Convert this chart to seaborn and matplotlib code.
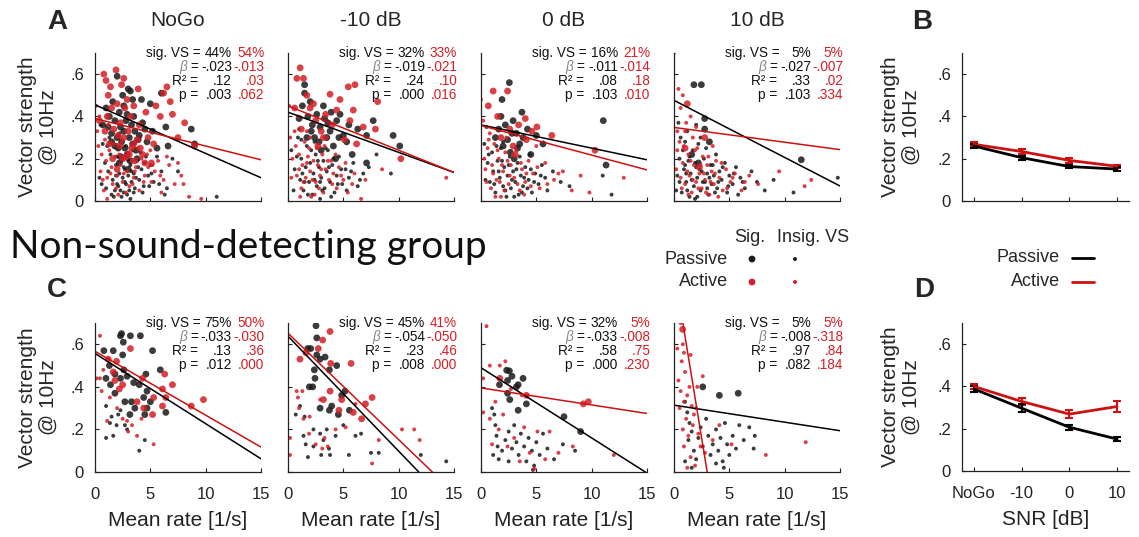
import numpy as np
import pandas as pd
import matplotlib
matplotlib.use("Agg")
import matplotlib.pyplot as plt
import seaborn as sns

sns.set_style("ticks")
plt.rcParams['font.family'] = ['Liberation Sans', 'DejaVu Sans']

BLACK = '#1a1a1a'
RED = '#d42027'
RED_LINE = '#cc1111'

conditions = ['NoGo', '-10 dB', '0 dB', '10 dB']
snr_labels = ['NoGo', '-10', '0', '10']

# ---- top row (A): (rate, VS) points, passive / active, sig / insig ----
tn_pas_sig = [(0.7,0.36),(1.0,0.44),(1.3,0.40),(1.5,0.32),(1.6,0.47),(1.8,0.38),(2.0,0.59),(2.0,0.30),(2.2,0.42),(2.3,0.35),
              (2.4,0.28),(2.5,0.50),(2.6,0.33),(2.7,0.25),(2.8,0.38),(2.9,0.22),(3.0,0.53),(3.1,0.30),(3.2,0.52),(3.3,0.36),
              (3.4,0.27),(3.5,0.40),(3.6,0.33),(3.8,0.20),(3.9,0.29),(4.2,0.48),(4.3,0.37),(4.5,0.34),(4.7,0.28),(5.0,0.46),
              (5.2,0.33),(5.6,0.25),(6.0,0.51),(6.4,0.35),(6.6,0.26),(8.7,0.34),(9.0,0.27),(2.2,0.18),(3.0,0.15),(1.8,0.26),
              (1.2,0.35),(2.1,0.25),(2.6,0.45),(3.4,0.48),(4.0,0.31),(1.5,0.28),(2.9,0.41),(3.7,0.24),(2.3,0.21),(3.2,0.19)]
tn_act_sig = [(0.4,0.38),(0.8,0.60),(1.0,0.57),(1.2,0.50),(1.4,0.54),(1.5,0.44),(1.7,0.34),(1.9,0.62),(2.0,0.46),(2.1,0.31),
              (2.3,0.37),(2.4,0.55),(2.6,0.30),(2.7,0.44),(2.8,0.21),(3.0,0.33),(3.2,0.40),(3.3,0.25),(3.5,0.45),(3.6,0.19),
              (3.8,0.29),(4.0,0.36),(4.3,0.22),(4.6,0.42),(4.8,0.30),(5.1,0.18),(5.5,0.45),(5.9,0.40),(6.2,0.51),(6.5,0.54),
              (6.8,0.47),(7.0,0.41),(7.5,0.30),(8.1,0.37),(9.0,0.26),(5.3,0.27),(2.0,0.15),(1.3,0.27),(0.9,0.33),(3.9,0.53),
              (4.5,0.18),(2.6,0.58),(1.1,0.40),(2.2,0.26),(2.9,0.48),(3.5,0.27),(1.6,0.20),(4.1,0.25),(2.5,0.20),(3.1,0.22)]
tn_pas_ins = [(0.4,0.11),(0.7,0.27),(0.9,0.18),(1.0,0.06),(1.2,0.14),(1.4,0.22),(1.6,0.10),(1.7,0.02),(1.9,0.17),(2.0,0.08),
              (2.1,0.25),(2.2,0.13),(2.3,0.05),(2.4,0.19),(2.5,0.11),(2.6,0.04),(2.7,0.15),(2.8,0.08),(2.9,0.21),(3.0,0.12),
              (3.1,0.05),(3.2,0.17),(3.3,0.09),(3.4,0.24),(3.5,0.13),(3.6,0.06),(3.8,0.19),(4.0,0.10),(4.2,0.15),(4.4,0.07),
              (4.6,0.21),(4.8,0.12),(5.0,0.17),(5.3,0.09),(5.6,0.21),(6.0,0.14),(6.5,0.06),(7.0,0.20),(7.5,0.14),(11.0,0.02),
              (1.3,0.30),(0.5,0.36),(2.2,0.32),(3.7,0.28),(1.8,0.05),(2.9,0.03),(3.2,0.01),(4.9,0.07),(6.3,0.03),
              (1.5,0.03),(1.9,0.12),(2.1,0.07),(2.4,0.02),(2.6,0.16),(2.8,0.26),(3.0,0.19),(3.3,0.14),(3.5,0.04),(3.7,0.11),
              (3.9,0.16),(4.1,0.23),(4.3,0.04),(4.5,0.18),(5.1,0.13),(5.8,0.08),(1.1,0.26),(0.6,0.08),(2.0,0.21),(2.7,0.09)]
tn_act_ins = [(0.1,0.45),(0.3,0.26),(0.5,0.14),(0.6,0.22),(0.8,0.05),(1.0,0.19),(1.1,0.11),(1.3,0.24),(1.5,0.16),(1.6,0.08),
              (1.8,0.21),(2.0,0.12),(2.1,0.03),(2.3,0.17),(2.5,0.09),(2.7,0.20),(2.9,0.14),(3.1,0.07),(3.3,0.19),(3.5,0.11),
              (3.7,0.16),(4.0,0.05),(4.2,0.20),(4.5,0.12),(4.8,0.16),(5.1,0.09),(5.4,0.14),(5.7,0.19),(6.2,0.10),(6.7,0.17),
              (7.2,0.08),(7.8,0.12),(8.5,0.02),(9.6,0.01),(3.9,0.25),(1.2,0.36),(0.4,0.40),(2.4,0.28),(5.0,0.24),(6.0,0.04),
              (0.2,0.33),(0.7,0.10),(1.4,0.13),(1.7,0.27),(1.9,0.06),(2.2,0.22),(2.6,0.13),(2.8,0.04),(3.0,0.23),(3.4,0.08),
              (3.6,0.14),(4.4,0.09),(4.7,0.22),(5.2,0.17),(5.9,0.12),(6.5,0.21),(7.5,0.18),(8.0,0.08),(0.9,0.29),(1.1,0.01)]

tm_pas_sig = [(1.5,0.55),(1.5,0.51),(1.3,0.45),(1.8,0.40),(2.2,0.36),(2.6,0.41),(2.9,0.35),(3.2,0.45),(3.5,0.30),(3.9,0.42),
              (4.1,0.26),(4.4,0.38),(4.7,0.41),(5.0,0.31),(5.3,0.28),(5.8,0.22),(6.3,0.34),(7.1,0.31),(7.1,0.18),(7.7,0.38),
              (9.5,0.31),(10.1,0.26),(2.4,0.30),(3.0,0.24),(2.0,0.47),(4.3,0.20),(3.6,0.37),(1.0,0.39),
              (2.1,0.33),(2.8,0.28),(3.3,0.39),(3.8,0.33),(4.6,0.30),(5.5,0.36),(1.7,0.30)]
tm_act_sig = [(1.1,0.63),(0.8,0.58),(1.4,0.58),(6.05,0.55),(5.45,0.54),(3.8,0.505),(4.7,0.48),(8.1,0.47),(5.9,0.43),(7.9,0.34),
              (10.2,0.20),(2.0,0.44),(6.2,0.27),(1.7,0.50),(2.5,0.38),(3.0,0.33),(4.0,0.36),(5.1,0.29),(6.8,0.35),(0.6,0.44),
              (2.7,0.26),(3.4,0.41),(2.3,0.46),(3.2,0.30),(4.4,0.43),(1.2,0.34),(5.6,0.38)]
tm_pas_ins = [(0.3,0.24),(0.6,0.15),(0.9,0.30),(1.1,0.10),(1.2,0.20),(1.4,0.05),(1.6,0.16),(1.7,0.26),(1.9,0.09),(2.0,0.18),
              (2.2,0.03),(2.3,0.13),(2.5,0.22),(2.6,0.07),(2.8,0.16),(2.9,0.01),(3.0,0.11),(3.2,0.19),(3.3,0.06),(3.5,0.14),
              (3.6,0.24),(3.8,0.09),(4.0,0.17),(4.2,0.04),(4.4,0.12),(4.6,0.21),(4.9,0.08),(5.2,0.15),(5.5,0.11),(5.9,0.18),
              (6.3,0.07),(6.8,0.13),(8.0,0.22),(9.3,0.13),(1.0,0.34),(2.4,0.28),(0.5,0.05),
              (0.8,0.21),(1.3,0.13),(1.5,0.09),(1.8,0.03),(2.1,0.24),(2.4,0.10),(2.7,0.19),(3.1,0.05),(3.4,0.25),(3.7,0.16),
              (3.9,0.02),(4.1,0.20),(4.5,0.08),(4.8,0.15),(5.3,0.05),(5.7,0.14),(6.5,0.10),(7.3,0.16),(2.9,0.09),(1.2,0.29)]
tm_act_ins = [(0.1,0.45),(0.2,0.30),(0.4,0.20),(0.7,0.26),(0.8,0.12),(1.0,0.22),(1.2,0.06),(1.3,0.17),(1.5,0.28),(1.6,0.11),
              (1.8,0.21),(2.0,0.14),(2.1,0.02),(2.3,0.19),(2.5,0.09),(2.7,0.17),(2.9,0.12),(3.1,0.22),(3.2,0.04),(3.4,0.15),
              (3.7,0.10),(3.9,0.19),(4.1,0.13),(4.4,0.06),(4.6,0.16),(5.0,0.10),(5.4,0.04),(6.0,0.13),(6.6,0.01),(8.5,0.15),
              (14.3,0.11),(0.9,0.40),(1.7,0.33),(2.6,0.25),(3.5,0.30),
              (0.3,0.11),(0.6,0.33),(1.0,0.15),(1.4,0.09),(1.7,0.18),(1.9,0.25),(2.2,0.10),(2.4,0.03),(2.8,0.06),(3.0,0.15),
              (3.3,0.26),(3.6,0.19),(4.0,0.08),(4.3,0.22),(4.8,0.12),(5.2,0.18),(5.8,0.08),(7.0,0.10),(1.1,0.02),(2.0,0.30)]

tz_pas_sig = [(2.56,0.56),(1.9,0.48),(3.7,0.42),(11.05,0.38),(11.3,0.17),(1.6,0.34),(3.2,0.32),(5.0,0.31),(3.5,0.27),(5.6,0.27),
              (2.65,0.23),(2.2,0.36),(2.9,0.38),(1.3,0.30),(4.2,0.34),(2.4,0.29),(3.0,0.20),(4.5,0.22),
              (1.8,0.40),(2.8,0.32),(3.3,0.25),(2.0,0.26),(3.8,0.30)]
tz_act_sig = [(1.1,0.52),(2.4,0.52),(4.0,0.39),(5.05,0.35),(6.4,0.31),(10.3,0.24),(0.66,0.45),(4.1,0.29),(2.9,0.26),(3.4,0.36),
              (1.8,0.30),(4.6,0.33),(1.5,0.40),(2.6,0.34),(3.1,0.22)]
tz_pas_ins = [(0.3,0.27),(0.6,0.18),(0.8,0.09),(1.0,0.23),(1.1,0.14),(1.3,0.04),(1.5,0.19),(1.7,0.11),(1.8,0.25),(2.0,0.07),
              (2.1,0.16),(2.3,0.02),(2.4,0.12),(2.6,0.21),(2.7,0.06),(2.9,0.14),(3.1,0.09),(3.3,0.18),(3.4,0.03),(3.6,0.12),
              (3.8,0.07),(4.0,0.16),(4.3,0.10),(4.6,0.04),(4.9,0.13),(5.2,0.08),(5.5,0.17),(5.8,0.11),(6.5,0.14),(7.2,0.09),
              (8.0,0.07),(11.0,0.12),(11.8,0.03),(0.5,0.35),(4.4,0.22),
              (0.4,0.10),(0.7,0.22),(1.2,0.08),(1.4,0.26),(1.6,0.14),(1.9,0.19),(2.2,0.05),(2.5,0.17),(2.8,0.10),(3.0,0.02),
              (3.2,0.15),(3.5,0.21),(3.7,0.04),(3.9,0.11),(4.2,0.06),(4.5,0.15),(4.8,0.09),(5.4,0.12),(6.0,0.05),(2.0,0.28)]
tz_act_ins = [(0.0,0.48),(0.2,0.38),(0.4,0.15),(0.6,0.25),(0.9,0.06),(1.0,0.17),(1.2,0.27),(1.4,0.10),(1.6,0.20),(1.8,0.02),
              (2.0,0.14),(2.2,0.23),(2.5,0.08),(2.7,0.17),(3.0,0.11),(3.2,0.24),(3.5,0.05),(3.7,0.15),(4.0,0.09),(4.3,0.19),
              (4.7,0.13),(5.3,0.06),(5.8,0.18),(6.6,0.10),(7.4,0.14),(8.2,0.05),(9.0,0.12),(9.8,0.04),(12.9,0.11),(0.8,0.32),
              (2.3,0.30),(5.0,0.26),
              (0.3,0.20),(0.5,0.09),(0.7,0.29),(1.1,0.13),(1.3,0.02),(1.5,0.24),(1.7,0.09),(1.9,0.17),(2.1,0.05),(2.4,0.19),
              (2.6,0.12),(2.9,0.22),(3.3,0.08),(3.6,0.18),(3.9,0.03),(4.1,0.13),(4.5,0.07),(5.1,0.16),(6.0,0.08),(7.0,0.13)]

tt_pas_sig = [(1.8,0.55),(2.47,0.55),(2.77,0.39),(2.77,0.34),(3.2,0.28),(11.5,0.195),(1.6,0.22),(2.2,0.18)]
tt_act_sig = [(1.2,0.46),(2.77,0.30),(1.0,0.25),(2.3,0.16)]
tt_pas_ins = [(0.3,0.12),(0.5,0.20),(0.7,0.04),(0.9,0.15),(1.0,0.28),(1.1,0.09),(1.3,0.19),(1.4,0.02),(1.5,0.13),(1.7,0.24),
              (1.8,0.07),(2.0,0.16),(2.1,0.11),(2.2,0.27),(2.4,0.05),(2.5,0.14),(2.7,0.20),(2.8,0.09),(3.0,0.13),(3.1,0.03),
              (3.3,0.17),(3.4,0.08),(3.6,0.12),(3.8,0.22),(3.9,0.06),(4.1,0.14),(4.3,0.10),(4.6,0.18),(4.8,0.04),(5.0,0.12),
              (5.3,0.08),(5.6,0.16),(6.0,0.11),(6.4,0.06),(7.0,0.14),(7.5,0.09),(8.2,0.05),(9.0,0.10),(10.8,0.04),(14.8,0.11),
              (0.4,0.37),(1.2,0.33),(2.0,0.36),(0.2,0.05),(1.9,0.01),
              (0.5,0.09),(0.8,0.24),(1.0,0.17),(1.2,0.05),(1.4,0.21),(1.6,0.10),(1.9,0.18),(2.1,0.02),(2.3,0.15),(2.6,0.09),
              (2.9,0.25),(3.2,0.11),(3.5,0.17),(3.7,0.04),(4.0,0.09),(4.4,0.16),(4.9,0.07),(5.4,0.13),(6.2,0.09),(2.4,0.30),
              (1.1,0.13),(3.0,0.06),(5.8,0.03),(0.6,0.30)]
tt_act_ins = [(0.0,0.70),(0.4,0.53),(0.6,0.44),(0.8,0.50),(0.3,0.33),(0.5,0.28),(0.8,0.18),(1.0,0.08),(1.1,0.37),(1.3,0.22),
              (1.4,0.12),(1.6,0.04),(1.7,0.30),(1.8,0.17),(2.0,0.09),(2.1,0.25),(2.3,0.13),(2.5,0.06),(2.6,0.21),(2.8,0.10),
              (3.0,0.17),(3.2,0.03),(3.4,0.14),(3.6,0.08),(3.8,0.19),(4.1,0.11),(4.4,0.05),(4.7,0.15),(5.1,0.09),(5.5,0.13),
              (6.1,0.05),(6.8,0.12),(7.6,0.08),(9.5,0.14),(11.8,0.07),(12.4,0.10),(0.2,0.15),(1.5,0.40),
              (0.3,0.24),(0.6,0.11),(0.9,0.26),(1.2,0.14),(1.3,0.03),(1.5,0.19),(1.7,0.10),(1.9,0.24),(2.2,0.06),(2.4,0.17),
              (2.7,0.13),(2.9,0.04),(3.1,0.21),(3.3,0.09),(3.7,0.13),(4.0,0.02),(4.3,0.18),(4.8,0.06),(5.3,0.11),(6.4,0.09),
              (1.0,0.33),(2.0,0.35),(0.7,0.06),(3.5,0.26)]

# ---- bottom row (C) ----
bn_pas_sig = [(2.4,0.65),(2.3,0.64),(3.2,0.64),(4.1,0.64),(0.8,0.57),(1.65,0.57),(2.5,0.55),(2.56,0.61),(5.2,0.57),(5.9,0.48),
              (4.6,0.46),(1.3,0.50),(1.8,0.46),(0.99,0.44),(2.3,0.44),(2.9,0.45),(3.5,0.42),(4.0,0.41),(4.7,0.38),(4.4,0.35),
              (2.7,0.33),(3.3,0.33),(3.6,0.30),(4.7,0.30),(6.4,0.28),(4.5,0.27),(1.8,0.37),(3.15,0.27),(5.0,0.33),(2.6,0.48),
              (1.4,0.41)]
bn_act_sig = [(3.2,0.58),(1.95,0.52),(2.5,0.41),(4.3,0.44),(5.3,0.35),(6.3,0.46),(7.0,0.41),(6.1,0.39),(6.4,0.35),(8.7,0.31),
              (9.8,0.34),(6.1,0.31),(5.2,0.27),(3.8,0.33),(1.2,0.53),(1.65,0.47),(1.8,0.43),(2.2,0.39),(4.4,0.30)]
bn_pas_ins = [(1.0,0.31),(1.0,0.16),(1.65,0.17),(1.95,0.22),(1.35,0.23),(4.0,0.10),(2.9,0.20),(4.5,0.15),(2.3,0.29),(1.5,0.26),
              (2.7,0.22),(2.1,0.27)]
bn_act_ins = [(0.45,0.64),(0.15,0.44),(0.45,0.44),(0.6,0.38),(1.1,0.24),(2.9,0.24),(3.35,0.22),(3.8,0.17),(5.3,0.13),(4.2,0.25),
              (2.5,0.25),(1.35,0.35),(0.75,0.48),(2.0,0.30),(3.0,0.19)]

bm_pas_sig = [(2.53,0.687),(2.6,0.63),(1.78,0.58),(2.05,0.58),(2.6,0.55),(2.9,0.53),(3.35,0.54),(2.38,0.48),(3.74,0.48),(4.4,0.50),
              (2.44,0.44),(1.93,0.40),(2.23,0.40),(5.15,0.38),(4.85,0.36),(2.9,0.30),(3.95,0.31),(3.74,0.29),(4.55,0.27),(5.55,0.29)]
bm_act_sig = [(3.8,0.66),(3.13,0.62),(2.74,0.58),(1.63,0.56),(1.08,0.53),(3.86,0.51),(5.7,0.51),(3.8,0.38),(4.85,0.34),(7.6,0.35),
              (7.0,0.32),(5.9,0.28),(4.6,0.29),(6.65,0.25),(3.2,0.34)]
bm_pas_ins = [(1.08,0.31),(1.5,0.26),(2.3,0.20),(1.4,0.17),(2.9,0.18),(1.6,0.13),(2.3,0.12),(3.2,0.15),(3.7,0.11),(3.0,0.08),
              (3.8,0.08),(1.8,0.07),(4.3,0.17),(5.0,0.22),(6.1,0.17),(5.5,0.08),(6.6,0.18),(7.5,0.09),(8.2,0.09),(12.0,0.08),
              (14.3,0.05),(0.7,0.27),(3.5,0.20)]
bm_act_ins = [(0.18,0.16),(0.18,0.08),(0.78,0.38),(0.9,0.35),(1.4,0.25),(1.96,0.26),(2.9,0.34),(1.9,0.18),(2.5,0.13),(3.1,0.11),
              (3.6,0.12),(3.3,0.16),(4.3,0.20),(5.2,0.21),(6.1,0.32),(8.2,0.15),(10.3,0.20),(11.4,0.20),(11.9,0.15),(7.6,0.04),
              (1.3,0.38),(1.0,0.30)]

bz_pas_sig = [(2.32,0.478),(2.56,0.475),(1.67,0.41),(2.4,0.43),(3.2,0.40),(3.8,0.44),(2.4,0.37),(3.36,0.41),(4.1,0.32),(2.6,0.34),
              (3.36,0.29),(7.5,0.26),(9.0,0.19),(2.8,0.45)]
bz_act_sig = [(9.25,0.32),(9.7,0.33),(1.7,0.44),(4.1,0.36)]
bz_pas_ins = [(1.0,0.30),(1.2,0.27),(1.3,0.22),(1.4,0.17),(1.5,0.12),(1.1,0.08),(1.6,0.06),(1.9,0.10),(2.2,0.15),(2.5,0.19),
              (2.5,0.05),(2.8,0.11),(3.0,0.22),(3.2,0.14),(3.4,0.08),(3.6,0.18),(3.9,0.12),(4.1,0.05),(4.3,0.16),(4.6,0.10),
              (4.8,0.03),(5.0,0.14),(5.3,0.08),(5.6,0.18),(6.0,0.11),(6.6,0.06),(7.4,0.13),(8.5,0.10),(4.7,0.01)]
bz_act_ins = [(0.5,0.685),(0.8,0.50),(1.7,0.50),(2.2,0.52),(0.2,0.44),(0.2,0.28),(0.8,0.25),(3.7,0.36),(6.2,0.19),(8.3,0.12),
              (12.0,0.08),(4.8,0.015),(1.3,0.33),(1.6,0.20),(2.0,0.27),(2.4,0.12),(3.0,0.16),(3.5,0.05),(3.9,0.21),(4.4,0.09),
              (5.1,0.19),(5.8,0.06),(7.0,0.09),(1.0,0.13),(2.7,0.39)]

bt_pas_sig = [(4.1,0.36),(5.8,0.37),(2.6,0.40)]
bt_act_sig = [(0.78,0.67)]
bt_pas_ins = [(1.0,0.33),(1.2,0.28),(1.4,0.23),(1.3,0.15),(1.6,0.19),(1.8,0.10),(2.0,0.06),(2.2,0.16),(2.4,0.21),(2.6,0.12),
              (2.9,0.25),(3.1,0.17),(3.3,0.08),(3.5,0.13),(3.8,0.20),(4.0,0.10),(4.2,0.16),(4.4,0.05),(4.6,0.23),(4.8,0.13),
              (5.0,0.08),(5.3,0.17),(5.6,0.11),(5.9,0.22),(6.3,0.15),(6.8,0.21),(7.2,0.11),(7.3,0.17),(4.5,0.02),(3.8,0.04),
              (1.0,0.05),(1.6,0.02)]
bt_act_ins = [(0.3,0.58),(0.6,0.70),(0.8,0.60),(0.9,0.56),(0.7,0.52),(1.0,0.47),(0.4,0.43),(0.6,0.38),(0.9,0.33),(1.2,0.36),
              (1.4,0.40),(1.6,0.31),(1.8,0.27),(1.1,0.25),(0.8,0.20),(1.3,0.17),(0.9,0.12),(1.7,0.22),(2.0,0.30),(2.2,0.18),
              (1.5,0.07),(1.9,0.03),(2.4,0.12),(2.6,0.45),(2.1,0.40),(4.1,0.22),(3.5,0.15),(5.2,0.13),(11.9,0.14),(8.3,0.08),
              (1.2,0.02),(2.8,0.09),(0.5,0.30),(1.5,0.55)]

# ---- regression stats (passive, active) ----
top_sig = [('44%', '54%'), ('32%', '33%'), ('16%', '21%'), ('5%', '5%')]
top_beta = [('-.023', '-.013'), ('-.019', '-.021'), ('-.011', '-.014'), ('-.027', '-.007')]
top_r2 = [('.12', '.03'), ('.24', '.10'), ('.08', '.18'), ('.33', '.02')]
top_p = [('.003', '.062'), ('.000', '.016'), ('.103', '.010'), ('.103', '.334')]
top_icpt = [(0.455, 0.39), (0.42, 0.45), (0.36, 0.357), (0.476, 0.348)]

bot_sig = [('75%', '50%'), ('45%', '41%'), ('32%', '5%'), ('5%', '5%')]
bot_beta = [('-.033', '-.030'), ('-.054', '-.050'), ('-.033', '-.008'), ('-.008', '-.318')]
bot_r2 = [('.13', '.36'), ('.23', '.46'), ('.58', '.75'), ('.97', '.84')]
bot_p = [('.012', '.000'), ('.008', '.000'), ('.000', '.230'), ('.082', '.184')]
bot_icpt = [(0.557, 0.567), (0.638, 0.652), (0.49, 0.395), (0.314, 0.954)]

# ---- mean VS per SNR (B, D) ----
b_pas = [0.260, 0.205, 0.163, 0.151]
b_pas_err = [0.010, 0.010, 0.008, 0.008]
b_act = [0.268, 0.234, 0.192, 0.164]
b_act_err = [0.010, 0.010, 0.010, 0.008]
d_pas = [0.388, 0.297, 0.207, 0.151]
d_pas_err = [0.015, 0.020, 0.012, 0.008]
d_act = [0.400, 0.329, 0.269, 0.305]
d_act_err = [0.012, 0.015, 0.020, 0.025]

top_sets = [(tn_pas_sig, tn_pas_ins, tn_act_sig, tn_act_ins), (tm_pas_sig, tm_pas_ins, tm_act_sig, tm_act_ins),
            (tz_pas_sig, tz_pas_ins, tz_act_sig, tz_act_ins), (tt_pas_sig, tt_pas_ins, tt_act_sig, tt_act_ins)]
bot_sets = [(bn_pas_sig, bn_pas_ins, bn_act_sig, bn_act_ins), (bm_pas_sig, bm_pas_ins, bm_act_sig, bm_act_ins),
            (bz_pas_sig, bz_pas_ins, bz_act_sig, bz_act_ins), (bt_pas_sig, bt_pas_ins, bt_act_sig, bt_act_ins)]

TICK_FS = 12
LAB_FS = 15
ANN_FS = 9.8
SIG_S = 24
INS_S = 8

fig = plt.figure(figsize=(11.39, 5.37), dpi=100)
W, H = 1139.0, 537.0


def px_axes(left, top, right, bottom):
    return fig.add_axes([left / W, 1 - bottom / H, (right - left) / W, (bottom - top) / H])


def style_axes(ax):
    sns.despine(ax=ax)
    for s in ['left', 'bottom']:
        ax.spines[s].set_linewidth(0.9)
        ax.spines[s].set_color('#222222')
    ax.tick_params(direction='in', length=3, width=0.8, labelsize=TICK_FS, colors='#222222')
    ax.tick_params(axis='x', pad=11)
    ax.tick_params(axis='y', pad=8)
    ax.set_ylim(0, 0.7)
    ax.set_yticks([0, 0.2, 0.4, 0.6])


def panel_frame(sets):
    rows = []
    for pts, cond, sig in zip(sets, ['Passive', 'Passive', 'Active', 'Active'], ['Sig', 'Insig', 'Sig', 'Insig']):
        for x, y in pts:
            rows.append((x, y, cond, sig))
    return pd.DataFrame(rows, columns=['rate', 'vs', 'cond', 'sig'])


def scatter_panel(ax, sets, icpt, sig, beta, r2, pv, xlabels):
    df = panel_frame(sets)
    sns.scatterplot(data=df, x='rate', y='vs', hue='cond', size='sig',
                    palette={'Passive': BLACK, 'Active': RED},
                    sizes={'Sig': SIG_S, 'Insig': INS_S}, linewidth=0, alpha=0.85,
                    legend=False, ax=ax)
    xs = np.array([0.0, 15.0])
    ax.plot(xs, icpt[0] + float(beta[0]) * xs, color='black', lw=1.1)
    ax.plot(xs, icpt[1] + float(beta[1]) * xs, color=RED_LINE, lw=1.1)
    ax.set_xlim(0, 15)
    style_axes(ax)
    ax.set_xticks([0, 5, 10, 15])
    if not xlabels:
        ax.set_xticklabels([])
        ax.set_xlabel('')
    else:
        ax.set_xlabel('Mean rate [1/s]', fontsize=LAB_FS, color='#222222', labelpad=6)
    ax.set_ylabel('')
    # stats block
    ys = [1.0, 0.905, 0.81, 0.715]
    kw = dict(transform=ax.transAxes, fontsize=ANN_FS, va='center', ha='right', clip_on=False)
    ax.text(0.635, ys[0], 'sig. VS =', color='#111111', **kw)
    ax.text(0.555, ys[1], 'β', color='#888888', style='italic', **kw)
    ax.text(0.62, ys[1], '=', color='#111111', **kw)
    ax.text(0.62, ys[2], 'R² =', color='#111111', **kw)
    ax.text(0.62, ys[3], 'p =', color='#111111', **kw)
    for y, vals in zip(ys, [sig, beta, r2, pv]):
        ax.text(0.825, y, vals[0], color='#111111', **kw)
        ax.text(1.02, y, vals[1], color=RED, **kw)


YLAB = 'Vector strength\n@ 10Hz'
lefts = [95, 288, 481, 674]
for i in range(4):
    ax = px_axes(lefts[i], 53, lefts[i] + 166, 201)
    scatter_panel(ax, top_sets[i], top_icpt[i], top_sig[i], top_beta[i], top_r2[i], top_p[i], False)
    ax.text(0.5, 1.22, conditions[i], transform=ax.transAxes, ha='center', va='center', fontsize=LAB_FS)
    if i == 0:
        ax.set_yticklabels(['0', '.2', '.4', '.6'])
        ax.set_ylabel(YLAB, fontsize=LAB_FS, linespacing=1.1, labelpad=9)
    else:
        ax.set_yticklabels([])

    ax = px_axes(lefts[i], 323, lefts[i] + 166, 472)
    scatter_panel(ax, bot_sets[i], bot_icpt[i], bot_sig[i], bot_beta[i], bot_r2[i], bot_p[i], True)
    if i == 0:
        ax.set_yticklabels(['0', '.2', '.4', '.6'])
        ax.set_ylabel(YLAB, fontsize=LAB_FS, linespacing=1.1, labelpad=9)
    else:
        ax.set_yticklabels([])


def snr_panel(ax, pas, pas_err, act, act_err, labels):
    xs = np.arange(len(snr_labels))
    ax.errorbar(xs, act, yerr=act_err, color=RED_LINE, lw=2, capsize=3, capthick=1.5, elinewidth=1.5)
    ax.errorbar(xs, pas, yerr=pas_err, color='black', lw=2, capsize=3, capthick=1.5, elinewidth=1.5)
    style_axes(ax)
    ax.set_xlim(-0.25, 3.25)
    ax.set_xticks(xs)
    if labels:
        ax.set_xticklabels(snr_labels)
        ax.set_xlabel('SNR [dB]', fontsize=LAB_FS, color='#222222', labelpad=6)
    else:
        ax.set_xticklabels([])
    ax.set_yticklabels(['0', '.2', '.4', '.6'])
    ax.set_ylabel(YLAB, fontsize=LAB_FS, linespacing=1.1, labelpad=12)


ax_b = px_axes(962, 53, 1129, 201)
snr_panel(ax_b, b_pas, b_pas_err, b_act, b_act_err, False)
ax_d = px_axes(962, 323, 1129, 471)
snr_panel(ax_d, d_pas, d_pas_err, d_act, d_act_err, True)

# overlay for panel letters, group heading and legends
ov = fig.add_axes([0, 0, 1, 1])
ov.set_xlim(0, W)
ov.set_ylim(H, 0)
ov.axis('off')
for letter, x, y in [('A', 57, 22), ('B', 922, 22), ('C', 57, 290), ('D', 924, 290)]:
    ov.text(x, y, letter, fontsize=20, fontweight='bold', ha='center', va='center')
ov.text(10, 247, 'Non-sound-detecting group', fontsize=28, family=['Lato', 'DejaVu Sans'],
        ha='left', va='center', color='#111111')

ov.text(750, 238, 'Sig.', fontsize=13, ha='center', va='center')
ov.text(813, 238, 'Insig. VS', fontsize=13, ha='center', va='center')
ov.text(728, 259, 'Passive', fontsize=13, ha='right', va='center')
ov.text(728, 282, 'Active', fontsize=13, ha='right', va='center')
ov.scatter([752, 795], [259, 259], s=[SIG_S, INS_S], color=BLACK, linewidth=0)
ov.scatter([752, 795], [282, 282], s=[SIG_S, INS_S], color=RED, linewidth=0)

ov.text(1060, 258, 'Passive', fontsize=13, ha='right', va='center')
ov.text(1060, 282, 'Active', fontsize=13, ha='right', va='center')
ov.plot([1072, 1094], [258, 258], color='black', lw=2)
ov.plot([1072, 1094], [282, 282], color=RED_LINE, lw=2)

fig.savefig('out.png', dpi=100)
